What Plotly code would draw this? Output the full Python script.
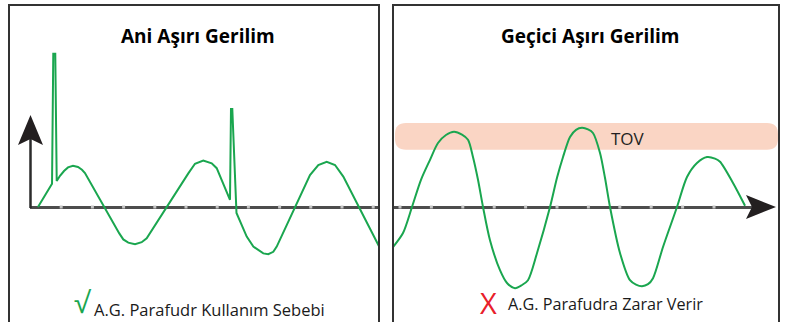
import plotly.graph_objects as go

# Sol panel: ani aşırı gerilim (zaman ms, gerilim pu)
ani_t = [1.28, 3.53, 3.73, 4.05, 4.28, 4.81, 5.45, 6.09, 6.89, 7.69, 8.33, 8.81,
         14.31, 14.95, 15.75, 16.83, 17.90, 18.70, 25.37, 26.44, 27.77, 29.12, 29.92,
         32.05, 32.21, 32.42, 33.09, 34.73, 35.79, 37.39, 38.19, 38.99, 39.54,
         44.87, 46.20, 47.55, 48.88, 50.21, 55.93]
ani_v = [0.00, 0.58, 3.83, 3.83, 0.65, 0.78, 0.90, 0.99, 1.03, 1.00, 0.93, 0.85,
         -0.66, -0.81, -0.89, -0.93, -0.88, -0.78, 0.84, 1.08, 1.16, 1.09, 0.97,
         0.18, 2.45, 2.45, -0.15, -0.74, -0.99, -1.16, -1.18, -1.12, -0.99,
         0.80, 1.05, 1.13, 1.05, 0.76, -0.98]

# Sağ panel: geçici aşırı gerilim
gecici_t = [3.89, 5.48, 6.91, 8.34, 9.78, 11.05, 12.32, 13.60, 14.87, 15.83, 16.62,
            17.42, 18.22, 19.33, 20.92, 22.04, 23.31, 24.43, 25.38, 26.82, 28.89,
            30.00, 30.96, 32.07, 33.03, 33.98, 34.94, 35.73, 36.85, 37.64, 38.44,
            40.03, 41.62, 42.58, 43.54, 44.49, 45.29, 46.88, 49.11, 50.70, 52.29,
            53.89, 55.16, 55.96, 58.03, 59.94]
gecici_v = [-1.00, -0.65, 0.00, 0.68, 1.18, 1.60, 1.80, 1.88, 1.81, 1.68, 1.25,
            0.68, 0.00, -0.83, -1.58, -1.90, -2.03, -1.95, -1.83, -1.15, 0.00,
            0.73, 1.25, 1.75, 1.93, 1.98, 1.94, 1.85, 1.35, 0.73, 0.00,
            -1.15, -1.83, -1.94, -1.98, -1.93, -1.78, -1.00, 0.00, 0.75, 1.10,
            1.25, 1.21, 1.13, 0.60, 0.03]

tick_ms = [5, 10, 15, 20, 25, 30, 35, 40, 45, 50, 55]
tov_band = [1.43, 2.10]

W, H = 794, 322
GREEN = '#1AA64F'
DARK = '#2B2B2B'
AXIS = '#4D4D4D'
FONT = 'Open Sans'


def fx(px):
    return px / W


def fy(py):
    return 1 - py / H


def poly(points):
    return 'M ' + ' L '.join(f'{fx(x):.5f},{fy(y):.5f}' for x, y in points) + ' Z'


# eksen ölçeği: zero line at 207 px, 40 px per pu
y_range = [(207 - H) / 40, 207 / 40]
left_px, left_scale = 30, 6.24
right_px0, right_scale = 368.6, 6.28

fig = go.Figure()

for xa, ya in [('x', 'y'), ('x2', 'y2')]:
    fig.add_trace(go.Scatter(
        x=tick_ms, y=[0] * len(tick_ms), xaxis=xa, yaxis=ya, mode='markers',
        marker=dict(symbol='square', size=3, color='#C4C4C4', line=dict(width=0)),
        hoverinfo='skip', showlegend=False
    ))

fig.add_trace(go.Scatter(
    x=ani_t, y=ani_v, xaxis='x', yaxis='y', mode='lines',
    line=dict(color=GREEN, width=2), showlegend=False, cliponaxis=True
))
fig.add_trace(go.Scatter(
    x=gecici_t, y=gecici_v, xaxis='x2', yaxis='y2', mode='lines',
    line=dict(color=GREEN, width=2, shape='spline', smoothing=0.8), showlegend=False
))

axis_common = dict(showgrid=False, showticklabels=False, ticks='', showline=False)

fig.update_layout(
    width=W, height=H,
    margin=dict(l=0, r=0, t=0, b=0),
    paper_bgcolor='white', plot_bgcolor='rgba(0,0,0,0)',
    showlegend=False,
    xaxis=dict(domain=[fx(30), fx(379)], range=[0, (379 - left_px) / left_scale],
               zeroline=False, **axis_common),
    yaxis=dict(domain=[0, 1], range=y_range, anchor='x', zeroline=True,
               zerolinecolor=AXIS, zerolinewidth=2.5, **axis_common),
    xaxis2=dict(domain=[fx(393), fx(752)],
                range=[(393 - right_px0) / right_scale, (752 - right_px0) / right_scale],
                anchor='y2', zeroline=False, **axis_common),
    yaxis2=dict(domain=[0, 1], range=y_range, anchor='x2', zeroline=True,
                zerolinecolor=AXIS, zerolinewidth=2.5, **axis_common),
)

shapes = []
# panel çerçeveleri
for x0, x1 in [(9, 379), (393, 779)]:
    shapes.append(dict(type='rect', xref='paper', yref='paper',
                       x0=fx(x0), x1=fx(x1), y0=fy(326), y1=fy(5),
                       line=dict(color='#333333', width=2)))

# TOV bandı (yuvarlatılmış)
bx0, bx1 = fx(395), fx(778)
by0, by1 = tov_band
rx, ry = 11 / W, 11 / 40
band_path = (f'M {bx0 + rx},{by1} L {bx1 - rx},{by1} Q {bx1},{by1} {bx1},{by1 - ry} '
             f'L {bx1},{by0 + ry} Q {bx1},{by0} {bx1 - rx},{by0} '
             f'L {bx0 + rx},{by0} Q {bx0},{by0} {bx0},{by0 + ry} '
             f'L {bx0},{by1 - ry} Q {bx0},{by1} {bx0 + rx},{by1} Z')
shapes.append(dict(type='path', xref='paper', yref='y2', path=band_path,
                   fillcolor='#FAD5C4', line=dict(width=0), layer='below'))

# dikey eksen + oklar
shapes.append(dict(type='line', xref='paper', yref='paper',
                   x0=fx(30.5), x1=fx(30.5), y0=fy(208), y1=fy(138),
                   line=dict(color=DARK, width=2.5)))
shapes.append(dict(type='path', xref='paper', yref='paper',
                   path=poly([(30.5, 115), (43, 145), (30.5, 139), (18, 145)]),
                   fillcolor='#231F20', line=dict(width=0)))
shapes.append(dict(type='path', xref='paper', yref='paper',
                   path=poly([(776, 207), (746, 219), (752, 207), (746, 195)]),
                   fillcolor='#231F20', line=dict(width=0)))
fig.update_layout(shapes=shapes)


def label(text, px, py, size, color='#1A1A1A', bold=False, anchor='center'):
    fig.add_annotation(
        text=f'<b>{text}</b>' if bold else text,
        x=fx(px), y=fy(py), xref='paper', yref='paper',
        xanchor=anchor, yanchor='middle', showarrow=False,
        font=dict(family=FONT, size=size, color=color)
    )


label('Ani Aşırı Gerilim', 198, 36, 19, color='#000000', bold=True)
label('Geçici Aşırı Gerilim', 590, 36, 19, color='#000000', bold=True)
label('TOV', 609, 138, 17, color='#231F20', anchor='left')
label('√', 83, 301, 29, color=GREEN)
label('A.G. Parafudr Kullanım Sebebi', 92, 309, 16.5, anchor='left')
label('X', 489, 302, 29, color='#E8202A')
label('A.G. Parafudra Zarar Verir', 506, 304, 16.2, anchor='left')

# sayfa kenar boşluğunu kaldır
fig.write_html('out.html', config={'displayModeBar': False},
               post_script="document.body.style.margin='0';")
